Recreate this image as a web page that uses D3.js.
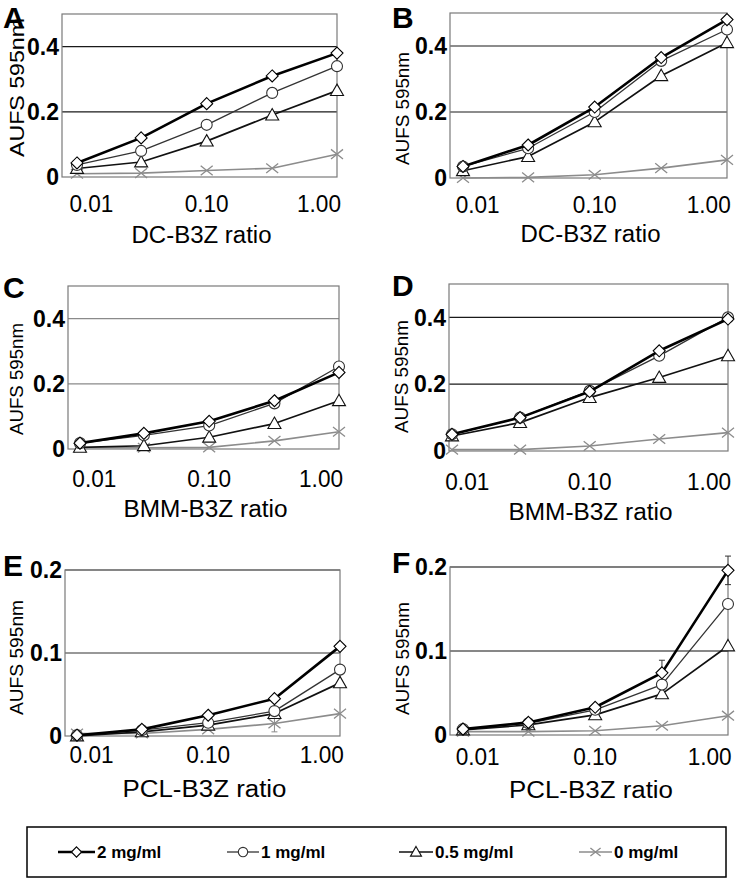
<!DOCTYPE html>
<html>
<head>
<meta charset="utf-8">
<script src="https://cdn.jsdelivr.net/npm/d3@7"></script>
<style>
  body { margin: 0; background: #fff; }
  text { font-family: "Liberation Sans", Arial, sans-serif; }
</style>
</head>
<body>
<script>
// x values (cell ratio), shared by every panel
const ratio = [0.0075, 0.027, 0.1, 0.37, 1.35];
const ratioTicks = [0.01, 0.1, 1];
const doses = ["2 mg/ml", "1 mg/ml", "0.5 mg/ml", "0 mg/ml"];

// series order: 2, 1, 0.5, 0 mg/ml
const valsA = [
  [0.043, 0.12, 0.225, 0.31, 0.38],
  [0.037, 0.08, 0.16, 0.258, 0.34],
  [0.026, 0.046, 0.11, 0.19, 0.265],
  [0.01, 0.012, 0.02, 0.027, 0.07],
];
const valsB = [
  [0.035, 0.1, 0.215, 0.365, 0.48],
  [0.035, 0.09, 0.2, 0.355, 0.45],
  [0.022, 0.065, 0.17, 0.31, 0.41],
  [0.0, 0.002, 0.01, 0.03, 0.055],
];
const valsC = [
  [0.018, 0.048, 0.085, 0.148, 0.235],
  [0.018, 0.042, 0.072, 0.14, 0.253],
  [0.005, 0.01, 0.036, 0.078, 0.148],
  [0.004, 0.004, 0.005, 0.025, 0.053],
];
const valsD = [
  [0.05, 0.1, 0.178, 0.3, 0.395],
  [0.05, 0.1, 0.18, 0.285, 0.4],
  [0.045, 0.085, 0.16, 0.22, 0.285],
  [0.004, 0.004, 0.015, 0.036, 0.055],
];
const valsE = [
  [0.001, 0.008, 0.025, 0.045, 0.108],
  [0.001, 0.007, 0.016, 0.03, 0.08],
  [0.0, 0.005, 0.013, 0.027, 0.064],
  [0.003, 0.003, 0.008, 0.015, 0.027],
];
const valsF = [
  [0.007, 0.015, 0.033, 0.074, 0.196],
  [0.007, 0.014, 0.03, 0.06, 0.156],
  [0.006, 0.012, 0.024, 0.049, 0.106],
  [0.004, 0.004, 0.005, 0.011, 0.023],
];
// a few visible error bars: [series, point, sd]
const errF = [[0, 3, 0.015], [0, 4, 0.017], [2, 2, 0.004]];
const errE = [[3, 3, 0.01]];

const yTicksHigh = [0, 0.2, 0.4];
const yTicksLow = [0, 0.1, 0.2];
const yMaxHigh = 0.5;
const yMaxLow = 0.2;

const svg = d3.select("body").append("svg")
  .attr("width", 737).attr("height", 882);

// layout of each panel (box edges in px)
const panels = [
  { id: "A", vals: valsA, xTitle: "DC-B3Z ratio", L: 62, R: 337, T: 14, B: 177, pad: 15, yMax: yMaxHigh, yTicks: yTicksHigh, grid: "#1a1a1a", tickDy: 35, titleDy: 66, lab: [17, 87.5, 139, 20], err: [] },
  { id: "B", vals: valsB, xTitle: "DC-B3Z ratio", L: 450, R: 727, T: 13, B: 178, pad: 13, yMax: yMaxHigh, yTicks: yTicksHigh, grid: "#1a1a1a", tickDy: 35, titleDy: 64, lab: [403, 108.5, 113, 18], err: [] },
  { id: "C", vals: valsC, xTitle: "BMM-B3Z ratio", L: 68, R: 339, T: 286, B: 449, pad: 12, yMax: yMaxHigh, yTicks: yTicksHigh, grid: "#8a8a8a", tickDy: 38, titleDy: 68, lab: [16.5, 379, 112, 18], err: [] },
  { id: "D", vals: valsD, xTitle: "BMM-B3Z ratio", L: 449, R: 728, T: 284, B: 451, pad: 3, yMax: yMaxHigh, yTicks: yTicksHigh, grid: "#1a1a1a", tickDy: 39, titleDy: 69, lab: [401.5, 376.5, 113, 18], err: [] },
  { id: "E", vals: valsE, xTitle: "PCL-B3Z ratio", L: 65, R: 340, T: 570, B: 736, pad: 12, yMax: yMaxLow, yTicks: yTicksLow, grid: "#333", tickDy: 27, titleDy: 61, lab: [16.5, 657.5, 115, 18], err: errE },
  { id: "F", vals: valsF, xTitle: "PCL-B3Z ratio", L: 450, R: 728, T: 567, B: 735, pad: 13, yMax: yMaxLow, yTicks: yTicksLow, grid: "#111", tickDy: 30, titleDy: 63, lab: [403, 658.5, 113, 18], err: errF },
];

// styling of each dose series
const seriesStyle = [
  { shape: "diamond", color: "#000", width: 2.6, size: 6 },
  { shape: "circle", color: "#333", width: 1.3, size: 5.5 },
  { shape: "triangle", color: "#111", width: 1.7, size: 6.5 },
  { shape: "cross", color: "#8c8c8c", width: 1.6, size: 6 },
];

const markerPath = (shape, s) => {
  const p = d3.path();
  if (shape === "diamond") {
    p.moveTo(0, -s); p.lineTo(s, 0); p.lineTo(0, s); p.lineTo(-s, 0); p.closePath();
  } else if (shape === "circle") {
    p.arc(0, 0, s, 0, 2 * Math.PI);
  } else if (shape === "triangle") {
    p.moveTo(0, -s); p.lineTo(s, s * 0.75); p.lineTo(-s, s * 0.75); p.closePath();
  } else {
    p.moveTo(-s, -s * 0.8); p.lineTo(s, s * 0.8);
    p.moveTo(-s, s * 0.8); p.lineTo(s, -s * 0.8);
  }
  return p.toString();
};

const drawMarker = (g, st, cx, cy, scale = 1) => {
  g.append("path")
    .attr("d", markerPath(st.shape, st.size * scale))
    .attr("transform", `translate(${cx},${cy})`)
    .attr("fill", st.shape === "cross" ? "none" : "#fff")
    .attr("stroke", st.color)
    .attr("stroke-width", st.shape === "cross" ? 1.3 : 1.1);
};

panels.forEach((pn) => {
  const g = svg.append("g");
  const x = d3.scaleLog().domain([ratio[0], ratio[ratio.length - 1]]).range([pn.L + pn.pad, pn.R]);
  const y = d3.scaleLinear().domain([0, pn.yMax]).range([pn.B, pn.T]);

  // gridlines
  g.selectAll(".grid")
    .data(pn.yTicks.filter((t) => t > 0))
    .join("line")
    .attr("x1", pn.L).attr("x2", pn.R)
    .attr("y1", (d) => y(d)).attr("y2", (d) => y(d))
    .attr("stroke", pn.grid).attr("stroke-width", 1.2);

  // plot frame
  g.append("rect")
    .attr("x", pn.L).attr("y", pn.T)
    .attr("width", pn.R - pn.L).attr("height", pn.B - pn.T)
    .attr("fill", "none").attr("stroke", "#7a7a7a").attr("stroke-width", 1.2);

  // y tick labels
  g.selectAll(".ylab")
    .data(pn.yTicks)
    .join("text")
    .attr("x", pn.L - 3)
    .attr("y", (d) => y(d))
    .attr("dy", "0.36em")
    .attr("text-anchor", "end")
    .attr("font-weight", "bold")
    .attr("font-size", 23)
    .text((d) => (d === 0 ? "0" : d3.format(".1f")(d)));

  // x tick labels
  g.selectAll(".xlab")
    .data(ratioTicks)
    .join("text")
    .attr("x", (d) => x(d) - (d === 1 ? 3 : 0))
    .attr("y", pn.B + pn.tickDy)
    .attr("text-anchor", "middle")
    .attr("font-size", 23)
    .attr("textLength", 44)
    .attr("lengthAdjust", "spacingAndGlyphs")
    .text((d) => d3.format(".2f")(d));

  // x title
  g.append("text")
    .attr("x", (pn.L + pn.R) / 2 + 2)
    .attr("y", pn.B + pn.titleDy)
    .attr("text-anchor", "middle")
    .attr("font-size", 23)
    .attr("textLength", pn.xTitle.startsWith("DC") ? 140 : 164)
    .attr("lengthAdjust", "spacingAndGlyphs")
    .text(pn.xTitle);

  // y title
  const [lx, ly, llen, lfs] = pn.lab;
  g.append("text")
    .attr("transform", `translate(${lx},${ly}) rotate(-90)`)
    .attr("text-anchor", "middle")
    .attr("dy", "0.36em")
    .attr("font-size", lfs)
    .attr("textLength", llen)
    .attr("lengthAdjust", "spacingAndGlyphs")
    .text("AUFS 595nm");

  // panel letter
  const left = pn.id === "A" || pn.id === "C" || pn.id === "E";
  g.append("text")
    .attr("x", left ? 3 : 392)
    .attr("y", pn.id === "A" || pn.id === "B" ? 28 : pn.T + (pn.id === "E" || pn.id === "F" ? 6 : 12))
    .attr("font-weight", "bold")
    .attr("font-size", 30)
    .text(pn.id);

  const line = d3.line().x((d, i) => x(ratio[i])).y((d) => y(d));

  // error bars
  pn.err.forEach(([si, pi, sd]) => {
    const cx = x(ratio[pi]);
    const v = pn.vals[si][pi];
    const col = seriesStyle[si].color === "#000" ? "#333" : seriesStyle[si].color;
    g.append("line")
      .attr("x1", cx).attr("x2", cx)
      .attr("y1", y(v - sd)).attr("y2", y(v + sd))
      .attr("stroke", col).attr("stroke-width", 1);
    [v - sd, v + sd].forEach((e) =>
      g.append("line")
        .attr("x1", cx - 3).attr("x2", cx + 3)
        .attr("y1", y(e)).attr("y2", y(e))
        .attr("stroke", col).attr("stroke-width", 1)
    );
  });

  // series, bottom one first so the 2 mg/ml curve sits on top
  d3.range(pn.vals.length).reverse().forEach((si) => {
    const st = seriesStyle[si];
    g.append("path")
      .datum(pn.vals[si])
      .attr("d", line)
      .attr("fill", "none")
      .attr("stroke", st.color)
      .attr("stroke-width", st.width)
      .attr("stroke-linejoin", "round");
    pn.vals[si].forEach((v, i) => drawMarker(g, st, x(ratio[i]), y(v)));
  });
});

// legend
const lg = svg.append("g");
lg.append("rect")
  .attr("x", 27).attr("y", 827).attr("width", 699).attr("height", 50)
  .attr("fill", "#fff").attr("stroke", "#000").attr("stroke-width", 1.5);

const legendX = [[58, 95], [227, 259], [399, 433], [579, 612]];
doses.forEach((d, i) => {
  const st = seriesStyle[i];
  const [x0, x1] = legendX[i];
  const ly = 852;
  lg.append("line")
    .attr("x1", x0).attr("x2", x1).attr("y1", ly).attr("y2", ly)
    .attr("stroke", st.color).attr("stroke-width", st.width);
  drawMarker(lg, st, (x0 + x1) / 2, ly, 0.85);
  lg.append("text")
    .attr("x", x1 + 2)
    .attr("y", ly)
    .attr("dy", "0.36em")
    .attr("font-weight", "bold")
    .attr("font-size", 17)
    .text(d);
});
</script>
</body>
</html>
